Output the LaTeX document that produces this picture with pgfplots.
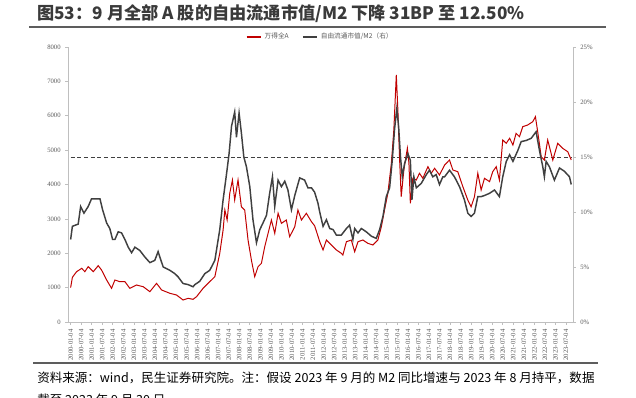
\documentclass[border=0pt]{standalone}
\usepackage{fontspec}
\setmainfont{Liberation Serif}
\newfontfamily\cjk{Noto Sans CJK SC}
\usepackage{pgfplots}
\usepackage{pgfplotstable}
\pgfplotsset{compat=1.18}
\definecolor{myred}{HTML}{C00000}
\definecolor{mydark}{HTML}{404040}
\definecolor{axisgray}{HTML}{BFBFBF}
\definecolor{ticktext}{HTML}{595959}
\definecolor{titlecol}{HTML}{3A3A3A}

\pgfplotstableread{
m v
0 1000
1 1300
3.4 1464
6.3 1561
8.1 1464
10 1610
12.9 1464
15.7 1639
17.6 1513
20.5 1222
23.3 980
25.2 1222
28 1173
30.9 1173
33.7 980
37.5 1076
41.3 1027
45.1 882
48.9 1125
51.8 931
56.5 835
60.3 785
64 640
66.9 689
69.7 660
71.7 737
75.4 980
79.2 1173
82.1 1318
84.9 1998
86.8 2676
87.8 3258
89.1 2967
90.6 3744
92.1 4131
93.4 3549
95.3 4131
97.2 3354
99.1 3258
101 2385
102.9 1804
104.8 1318
106.7 1609
108.6 1707
110.5 2191
112.4 2580
114.3 2967
116.2 2580
118.1 3162
120 2871
122.8 2967
124.7 2481
127.6 2772
129.4 3258
131.4 2967
134.2 3162
137.1 2918
138.9 2800
140.8 2500
141.8 2336
143.7 2095
145.6 2385
148.4 2240
151.3 2095
154.1 1998
155 1949
157 2336
159.8 2385
161.7 2045
163.6 2336
166.4 2385
169.2 2289
172.1 2240
174.9 2385
176.9 2772
178.7 3258
180.6 3744
182.6 4617
184 5585
185.4 7185
186.3 6167
187.3 4713
188.2 3645
189.7 4422
191.7 5053
192.6 4617
193.4 3453
194.8 4180
196.8 4131
198.6 4326
200.5 4180
203.4 4518
205.3 4326
207.2 4471
210 4276
212.9 4567
215.7 4713
217.6 4422
220.4 4373
223.3 3936
226.1 3549
228 3354
229.9 3645
231.8 4326
233.7 3840
235.6 4180
238.5 4082
240.3 4373
242.3 4518
244.1 4131
246 5295
248 5199
249.9 5344
251.8 5149
253.6 5489
255.5 5392
257.4 5682
260.2 5731
263.1 5827
264.6 5973
265.9 5536
267.9 4809
269.7 4713
271.6 5295
274.5 4713
277.3 5199
280.1 5053
283 4955
285 4713
}\redtable

\pgfplotstableread{
m v
0 7.5
1 8.7
4.3 8.9
5.7 10.5
7.6 9.9
10 10.5
11.9 11.2
14.8 11.2
16.7 11.2
18.2 10.2
20.5 9.0
22.3 8.5
23.9 7.5
25.2 7.5
27.1 8.2
29 8.1
30.9 7.5
32.8 6.8
34.7 6.3
36.6 6.8
39.4 6.5
42.3 5.9
45.1 5.4
47.9 5.6
49.8 6.4
50.8 5.9
52.7 5.0
56.5 4.7
59.3 4.4
61.2 4.1
64 3.5
66.9 3.4
69.7 3.2
70.7 3.4
73.5 3.7
76.4 4.4
79.2 4.7
82.1 5.6
84.9 8.4
86.8 11.1
88.7 13.4
90.2 15.3
91.6 17.8
93.4 19.1
94.4 16.8
95.9 19.0
97.2 17.2
98.6 15.0
100.1 14.1
102 12.3
103.8 9.3
105.8 7.2
107.7 8.4
109.5 9.0
111.5 9.7
113.3 11.7
114.9 13.2
116.2 10.5
118.1 12.9
120 12.3
121.9 12.8
123.7 12.0
125.7 10.2
127.6 11.5
130.4 13.1
133.2 12.9
135.1 12.2
137.1 12.2
138.9 11.8
140.8 10.8
141.8 10.0
143.7 8.7
145.6 9.3
147.5 8.5
149.4 8.4
151.3 7.9
154.1 7.9
157 8.5
158.8 8.8
160.7 7.5
161.7 8.5
163.6 8.1
165.5 8.5
168.3 8.2
171.2 7.8
174 7.6
175.9 8.4
177.8 9.6
179.7 11.4
181.6 12.2
183.1 14.7
184.4 17.5
185.7 19.4
186.7 17.8
187.8 15.0
188.8 13.2
190.1 14.4
192 15.3
193.4 14.7
194.3 11.1
195.4 13.2
196.8 12.2
199.6 12.6
202.5 13.4
204.3 13.8
206.2 13.2
208.1 13.4
210 12.5
211.9 13.2
212.9 13.2
215.7 13.8
218.5 13.2
221.4 12.3
224.2 11.1
226.1 9.9
228 9.6
229.9 9.9
231.8 11.4
233.7 11.4
235.6 11.5
238.5 11.7
241.3 12.0
244.1 11.4
246 13.2
248 14.6
249.9 15.2
251.8 14.6
254.6 15.6
256.5 16.4
259.3 16.5
262.2 16.7
265 17.3
266.9 15.6
268.8 14.1
269.7 13.2
270.7 14.6
272.6 14.1
275.4 12.9
278.3 14.0
281.1 13.7
284 13.2
285 12.5
}\blacktable

\pgfplotsset{
  common/.style={
    scale only axis, width=378.75pt, height=206.25pt,
    xmin=-1.5, xmax=286,
    axis line style={draw=axisgray, line width=0.6pt, -},
    tick style={draw=axisgray, line width=0.5pt},
    tick align=outside, major tick length=2pt,
    tick label style={font=\fontsize{5pt}{6pt}\selectfont, text=ticktext},
    /pgf/number format/assume math mode=true,
    /pgf/number format/1000 sep={},
    clip=false,
  }
}

\begin{document}
\begin{tikzpicture}
\path[use as bounding box] (0pt,0pt) rectangle (477pt,297.75pt);

\node[anchor=west, text=titlecol, inner sep=0pt] at (27.75pt,287.25pt) {\cjk\bfseries\fontsize{12.9pt}{14pt}\selectfont 图53：9 月全部 A 股的自由流通市值/M2 下降 31BP 至 12.50\%};
\draw[color=mydark!85, line width=1.5pt] (21.75pt,277.5pt) -- (454.5pt,277.5pt);

\begin{axis}[common, at={(51pt,56.25pt)}, anchor=south west,
  axis x line*=bottom, axis y line*=left,
  ymin=0, ymax=8000, ytick={0,1000,...,8000},
  xtick={0,6,...,282},
  xticklabels={2000-01-04,2000-07-04,2001-01-04,2001-07-04,2002-01-04,2002-07-04,2003-01-04,2003-07-04,2004-01-04,2004-07-04,2005-01-04,2005-07-04,2006-01-04,2006-07-04,2007-01-04,2007-07-04,2008-01-04,2008-07-04,2009-01-04,2009-07-04,2010-01-04,2010-07-04,2011-01-04,2011-07-04,2012-01-04,2012-07-04,2013-01-04,2013-07-04,2014-01-04,2014-07-04,2015-01-04,2015-07-04,2016-01-04,2016-07-04,2017-01-04,2017-07-04,2018-01-04,2018-07-04,2019-01-04,2019-07-04,2020-01-04,2020-07-04,2021-01-04,2021-07-04,2022-01-04,2022-07-04,2023-01-04,2023-07-04},
  xticklabel style={rotate=90, anchor=east},
]
\addplot[color=mydark, line width=0.6pt, dash pattern=on 3pt off 2pt] coordinates {(0,4800) (285,4800)};
\addplot[color=myred, line width=0.75pt] table[x=m, y=v] {\redtable};
\end{axis}

\begin{axis}[common, at={(51pt,56.25pt)}, anchor=south west,
  axis x line=none, axis y line*=right,
  ymin=0, ymax=25, ytick={0,5,...,25},
  yticklabel={\pgfmathprintnumber{\tick}\%},
  legend columns=2,
  legend style={at={(0.5,1)}, anchor=center, yshift=7.5pt, draw=none, fill=none,
    font=\cjk\fontsize{5pt}{6pt}\selectfont, text=ticktext,
    /tikz/every even column/.append style={column sep=8pt}},
  legend image code/.code={\draw[#1] (0pt,0pt) -- (11pt,0pt);},
]
\addlegendimage{color=myred, line width=1.2pt}
\addlegendentry{万得全A}
\addplot[color=mydark, line width=1.1pt] table[x=m, y=v] {\blacktable};
\addlegendentry{自由流通市值/M2（右）}
\end{axis}

\draw[color=mydark!85, line width=1.1pt] (24.75pt,25.5pt) -- (448.5pt,25.5pt);
\node[anchor=west, inner sep=0pt, text=black] at (27.75pt,14.25pt) {\cjk\fontsize{9.4pt}{11pt}\selectfont 资料来源：wind，民生证券研究院。注：假设 2023 年 9 月的 M2 同比增速与 2023 年 8 月持平，数据};
\node[anchor=west, inner sep=0pt, text=black] at (27.75pt,-2.25pt) {\cjk\fontsize{9.4pt}{11pt}\selectfont 截至 2023 年 9 月 30 日};
\end{tikzpicture}
\end{document}
